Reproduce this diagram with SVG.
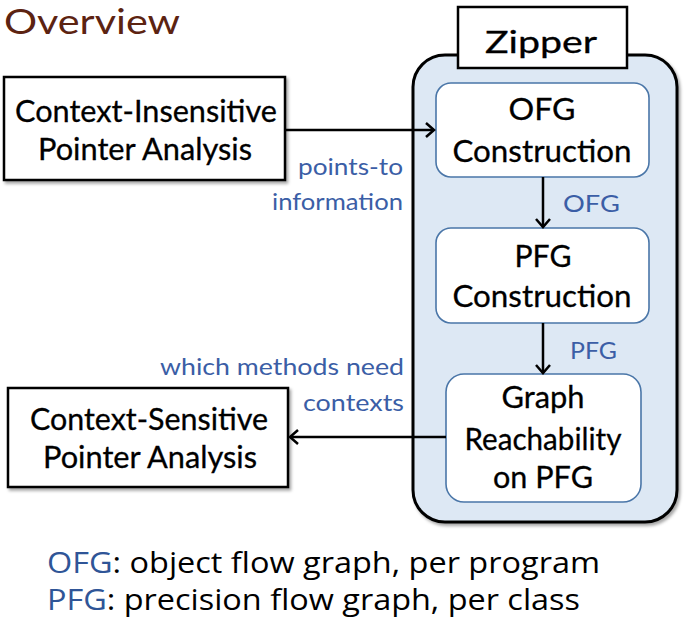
<svg xmlns="http://www.w3.org/2000/svg" width="684" height="631" viewBox="0 0 684 631">
  <style>
    .ttl { font-family: Lato, "Open Sans", sans-serif; font-size: 35px; fill: #5c2311; }
    .box { font-family: Lato, "Open Sans", sans-serif; font-size: 31px; fill: #000; stroke: #000; stroke-width: 0.3; }
    .lbl { font-family: Lato, "Open Sans", sans-serif; font-size: 24px; fill: #3b5ea6; }
    .leg { font-family: "Open Sans", "Noto Sans", sans-serif; font-size: 29px; fill: #000; }
    .legk { fill: #2f5597; }
    .plain { fill: #fff; stroke: #000; stroke-width: 2.5; }
    .step { fill: #fff; stroke: #4a76a8; stroke-width: 1.6; }
    .conn { stroke: #000; stroke-width: 2.5; fill: none; }
  </style>
  <defs>
    <filter id="shadow" x="-5%" y="-5%" width="115%" height="115%">
      <feDropShadow dx="2" dy="2.5" stdDeviation="1.5" flood-color="#000" flood-opacity="0.35"/>
    </filter>
    <marker id="arrow" markerUnits="userSpaceOnUse" markerWidth="14" markerHeight="16" refX="10" refY="7" orient="auto" overflow="visible">
      <path d="M2,0 L10,7 L2,14" fill="none" stroke="#000" stroke-width="2.5"/>
    </marker>
  </defs>

  <text class="ttl" x="4" y="34" textLength="176" lengthAdjust="spacingAndGlyphs">Overview</text>

  <!-- Zipper container -->
  <g id="zipper">
    <rect x="413" y="55" width="264" height="467" rx="32" fill="#dde8f4" stroke="#000" stroke-width="3" filter="url(#shadow)"/>
    <rect class="plain" x="458" y="7" width="169" height="61"/>
    <text class="box" x="541" y="53" text-anchor="middle" font-size="38" textLength="112" lengthAdjust="spacingAndGlyphs">Zipper</text>
  </g>

  <g id="ci-analysis">
    <rect class="plain" x="4" y="77" width="281" height="103" filter="url(#shadow)"/>
    <text class="box" x="146" y="122" text-anchor="middle" textLength="262" lengthAdjust="spacingAndGlyphs">Context-Insensitive</text>
    <text class="box" x="145" y="160" text-anchor="middle" textLength="214" lengthAdjust="spacingAndGlyphs">Pointer Analysis</text>
  </g>

  <g id="cs-analysis">
    <rect class="plain" x="8" y="388" width="280" height="99" filter="url(#shadow)"/>
    <text class="box" x="149" y="430" text-anchor="middle" textLength="238" lengthAdjust="spacingAndGlyphs">Context-Sensitive</text>
    <text class="box" x="150" y="468" text-anchor="middle" textLength="214" lengthAdjust="spacingAndGlyphs">Pointer Analysis</text>
  </g>

  <g id="ofg-construction">
    <rect class="step" x="436" y="83" width="213" height="94" rx="15"/>
    <text class="box" x="542" y="120" text-anchor="middle" textLength="67" lengthAdjust="spacingAndGlyphs">OFG</text>
    <text class="box" x="542" y="162" text-anchor="middle" textLength="179" lengthAdjust="spacingAndGlyphs">Construction</text>
  </g>

  <g id="pfg-construction">
    <rect class="step" x="436" y="228" width="213" height="95" rx="15"/>
    <text class="box" x="543" y="267" text-anchor="middle" textLength="57" lengthAdjust="spacingAndGlyphs">PFG</text>
    <text class="box" x="542" y="307" text-anchor="middle" textLength="179" lengthAdjust="spacingAndGlyphs">Construction</text>
  </g>

  <g id="graph-reachability">
    <rect class="step" x="446" y="374" width="195" height="128" rx="18"/>
    <text class="box" x="543" y="408" text-anchor="middle" textLength="83" lengthAdjust="spacingAndGlyphs">Graph</text>
    <text class="box" x="543" y="450" text-anchor="middle" textLength="157" lengthAdjust="spacingAndGlyphs">Reachability</text>
    <text class="box" x="543" y="488" text-anchor="middle" textLength="100" lengthAdjust="spacingAndGlyphs">on PFG</text>
  </g>

  <g id="connectors">
    <line class="conn" x1="285" y1="130" x2="434" y2="130" marker-end="url(#arrow)"/>
    <line class="conn" x1="543" y1="177" x2="543" y2="227" marker-end="url(#arrow)"/>
    <line class="conn" x1="543" y1="323" x2="543" y2="373" marker-end="url(#arrow)"/>
    <line class="conn" x1="446" y1="437" x2="290" y2="437" marker-end="url(#arrow)"/>
    <text class="lbl" x="403" y="175" text-anchor="end" textLength="105" lengthAdjust="spacingAndGlyphs">points-to</text>
    <text class="lbl" x="403" y="210" text-anchor="end" textLength="131" lengthAdjust="spacingAndGlyphs">information</text>
    <text class="lbl" x="563" y="212" textLength="57" lengthAdjust="spacingAndGlyphs">OFG</text>
    <text class="lbl" x="570" y="359" textLength="47" lengthAdjust="spacingAndGlyphs">PFG</text>
    <text class="lbl" x="404" y="375" text-anchor="end" textLength="244" lengthAdjust="spacingAndGlyphs">which methods need</text>
    <text class="lbl" x="404" y="411" text-anchor="end" textLength="101" lengthAdjust="spacingAndGlyphs">contexts</text>
  </g>

  <text class="leg" x="47" y="573" textLength="553" lengthAdjust="spacingAndGlyphs"><tspan class="legk">OFG</tspan>: object flow graph, per program</text>
  <text class="leg" x="47" y="610" textLength="533" lengthAdjust="spacingAndGlyphs"><tspan class="legk">PFG</tspan>: precision flow graph, per class</text>
</svg>
